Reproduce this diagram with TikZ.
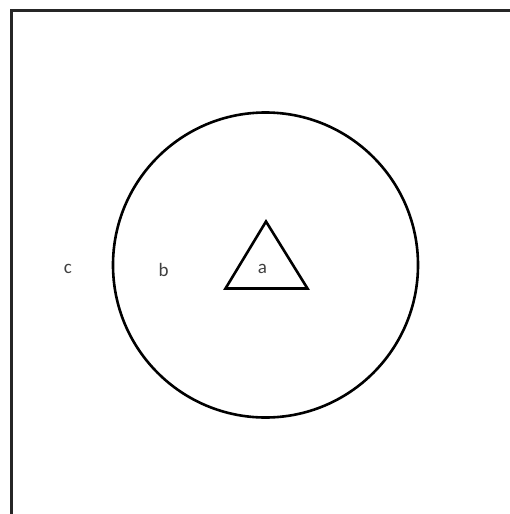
\documentclass[tikz,border=0pt]{standalone}
\usepackage{fontspec}
\setmainfont{Carlito}
\usetikzlibrary{positioning}
\tikzset{
  outline/.style={draw=black, line width=2.6pt},
  frameline/.style={draw=black!85, line width=3.2pt},
  setlabel/.style={font=\fontsize{19}{21}\selectfont, text=black!75, inner sep=0pt}
}

\begin{document}
\begin{tikzpicture}[x=1pt, y=-1pt]
\useasboundingbox (0,0) rectangle (510,514);
% outer region
\draw[frameline] (11.5,520) -- (11.5,10.5) -- (520,10.5);
% circle and triangle
\coordinate (centre) at (265.5,265);
\draw[outline] (centre) circle (152.5);
\draw[outline, line join=miter] (266,221.5) -- (307.5,288.5) -- (225.5,288.5) -- cycle;
% labels
\node[setlabel] (c) at (68,269) {c};
\node[setlabel] (b) at (163.5,270) {b};
\node[setlabel] (a) at (262.5,268.5) {a};
\end{tikzpicture}
\end{document}
